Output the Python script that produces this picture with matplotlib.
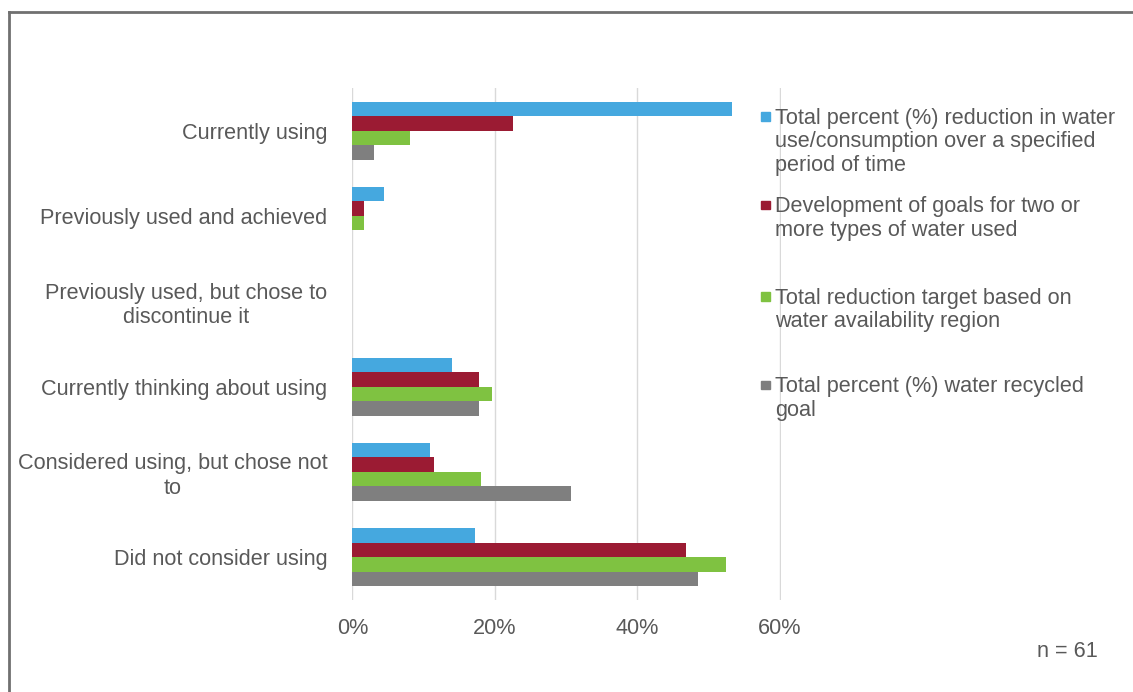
import numpy as np
import matplotlib
matplotlib.use('Agg')
import matplotlib.pyplot as plt
from matplotlib.patches import Rectangle

plt.rcParams['font.family'] = ['Liberation Sans', 'DejaVu Sans']

categories = ['Currently using', 'Previously used and achieved',
              'Previously used, but chose to\ndiscontinue it',
              'Currently thinking about using',
              'Considered using, but chose not\nto',
              'Did not consider using']
series_names = ['Total percent (%) reduction in water\nuse/consumption over a specified\nperiod of time',
                'Development of goals for two or\nmore types of water used',
                'Total reduction target based on\nwater availability region',
                'Total percent (%) water recycled\ngoal']
reduction = [53.3, 4.5, 0, 14.0, 10.9, 17.2]
two_types = [22.5, 1.6, 0, 17.8, 11.4, 46.8]
availability = [8.1, 1.6, 0, 19.6, 18.0, 52.5]
recycled = [3.1, 0, 0, 17.8, 30.7, 48.5]
colors = ['#45a8df', '#9b1b33', '#7fc241', '#7f7f7f']
xticks = [0, 20, 40, 60]

text_color = '#595959'
fs = 15.6
fig = plt.figure(figsize=(11.33, 6.92), dpi=100)
ax = fig.add_axes([0.311, 0.133, 0.378, 0.740])

y = np.arange(len(categories))
h = 0.17
for i, vals in enumerate([reduction, two_types, availability, recycled]):
    ax.barh(y - 1.5 * h + i * h, vals, height=h, color=colors[i], zorder=3)

ax.set_ylim(len(categories) - 0.5, -0.5)
ax.set_xlim(0, 60.1)
ax.set_xticks(xticks)
ax.set_xticklabels([f'{t}%' for t in xticks])
ax.set_yticks(y)
ax.set_yticklabels(categories, multialignment='center', linespacing=1.22)
ax.tick_params(axis='both', length=0, labelsize=fs, labelcolor=text_color)
ax.tick_params(axis='y', pad=18)
ax.tick_params(axis='x', pad=13)
ax.grid(axis='x', color='#d9d9d9', linewidth=1, zorder=0)
for s in ax.spines.values():
    s.set_visible(False)

# legend drawn by hand to keep the Excel spacing
leg_y = [0.832, 0.704, 0.572, 0.444]
for i, name in enumerate(series_names):
    fig.patches.append(Rectangle((0.672, leg_y[i] - 0.0065), 0.0072, 0.0125,
                                 transform=fig.transFigure, color=colors[i]))
    fig.text(0.684, leg_y[i] + 0.0125, name, fontsize=fs, color=text_color,
             va='top', ha='left', linespacing=1.18)

fig.text(0.969, 0.050, 'n = 61', fontsize=fs, color=text_color, ha='right')

# outer frame
fig.add_artist(plt.Line2D([0.008, 0.008], [0, 0.983], transform=fig.transFigure,
                          color='#707070', linewidth=2))
fig.add_artist(plt.Line2D([0.008, 1], [0.983, 0.983], transform=fig.transFigure,
                          color='#707070', linewidth=2))

plt.savefig('out.png', dpi=100)
